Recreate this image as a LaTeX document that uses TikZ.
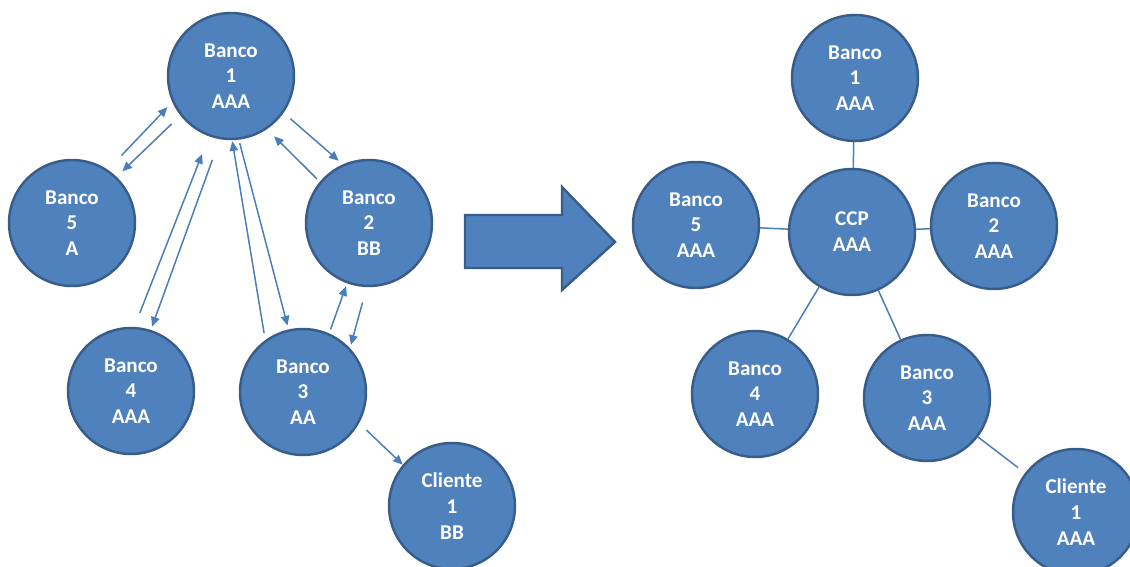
\documentclass[tikz,border=0pt]{standalone}
\usepackage{fontspec}
\setmainfont{Carlito}
\usetikzlibrary{arrows.meta}
\definecolor{officeblue}{HTML}{4F81BD}
\definecolor{officeedge}{HTML}{385D8A}
\definecolor{arrowblue}{HTML}{4A7EBB}
\tikzset{
    bankcircle/.style={circle, draw=officeedge, fill=officeblue, line width=1.4pt, minimum size=2.52cm, inner sep=0pt, align=center, text=white, font=\fontsize{12}{14.7}\selectfont\bfseries},
    flowarrow/.style={-{Triangle[length=5.5pt,width=4.8pt]}, draw=arrowblue, line width=0.85pt},
    linkline/.style={draw=arrowblue, line width=0.85pt},
    bigarrow/.style={draw=officeedge, fill=officeblue, line width=1.4pt, line join=miter}
}
\begin{document}
\begin{tikzpicture}[x=0.02cm, y=-0.02cm]
        \useasboundingbox (0,0) rectangle (1130,567);
        \clip (0,0) rectangle (1130,567);
        % before: bilateral exposures
        \node[bankcircle] (b1) at (231,76) {Banco\\1\\AAA};
        \node[bankcircle] (b5) at (72,223) {Banco\\5\\A};
        \node[bankcircle] (b2) at (369,223) {Banco\\2\\BB};
        \node[bankcircle] (b4) at (131,391) {Banco\\4\\AAA};
        \node[bankcircle] (b3) at (303,392) {Banco\\3\\AA};
        \node[bankcircle] (c1) at (452,506) {Cliente\\1\\BB};

        \foreach \a/\p/\b/\q/\s/\e in {b5/56/b1/204/11.3pt/4pt, b1/218/b5/46/6.8pt/4.5pt,
            b1/325/b2/114/5.1pt/3.1pt, b2/140/b1/304/2.3pt/5.7pt,
            b4/87/b1/250/8.5pt/10.8pt, b1/260/b4/72/12.5pt/2pt,
            b3/126/b1/271/4pt/0.6pt, b1/277/b3/103/2pt/2.3pt,
            b3/66/b2/250/2.3pt/1.7pt, b2/268/b3/43/9pt/2pt,
            b3/331/c1/140/5.7pt/0pt}
            \draw[flowarrow, shorten <=\s, shorten >=\e] (\a.\p) -- (\b.\q);

        % the big arrow
        \draw[bigarrow] (465,215) -- (562,215) -- (562,187) -- (615,242) -- (562,290) -- (562,268) -- (465,268) -- cycle;

        % after: central counterparty
        \node[bankcircle] (ccp) at (852,232) {CCP\\AAA};
        \node[bankcircle] (r1) at (855,78) {Banco\\1\\AAA};
        \node[bankcircle] (r5) at (696,225) {Banco\\5\\AAA};
        \node[bankcircle] (r2) at (994,226) {Banco\\2\\AAA};
        \node[bankcircle] (r4) at (755,394) {Banco\\4\\AAA};
        \node[bankcircle] (r3) at (927,398) {Banco\\3\\AAA};
        \node[bankcircle] (rc1) at (1076,512) {Cliente\\1\\AAA};

        \foreach \a/\b in {ccp/r1,ccp/r5,ccp/r2,ccp/r4,ccp/r3}
            \draw[linkline] (\a) -- (\b);
        \draw[linkline, shorten >=5pt] (r3) -- (rc1);
    \end{tikzpicture}
\end{document}
